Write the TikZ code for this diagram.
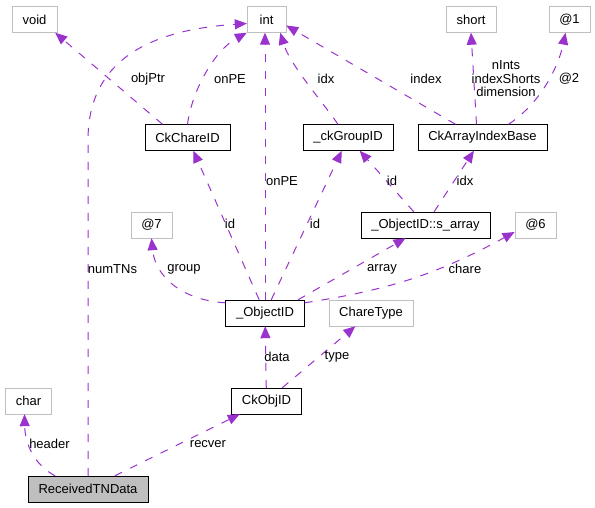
\documentclass[tikz,border=0pt]{standalone}
\usepackage{fontspec}
\setmainfont{Liberation Sans}
\usetikzlibrary{arrows.meta}

\definecolor{edgepurple}{HTML}{9A32CD}
\definecolor{boxgray}{HTML}{BFBFBF}

\begin{document}
\begin{tikzpicture}[x=1pt,y=1pt,
  font=\fontsize{13}{13.5}\selectfont,
  cls/.style={draw,minimum height=26pt,inner xsep=10.5pt,inner ysep=0pt},
  ext/.style={cls,draw=boxgray},
  main/.style={cls,fill=boxgray},
  use/.style={draw=edgepurple,line width=1pt,dash pattern=on 8pt off 9pt,
    -{Triangle[length=12pt,width=10pt]}},
  lbl/.style={inner sep=1pt}]
\useasboundingbox (0,0) rectangle (595,-507);
\node [ext] (void) at (34.5,-19.5) {void};
\node [ext,minimum width=39pt] (int) at (266.5,-19.5) {int};
\node [ext] (short) at (471,-19.5) {short};
\node [ext] (at1) at (569.5,-19.5) {@1};
\node [cls] (ckchare) at (187.5,-137.5) {CkChareID};
\node [cls] (group) at (348,-137.5) {\_ckGroupID};
\node [cls] (arr) at (482.5,-137.5) {CkArrayIndexBase};
\node [ext] (at7) at (151.5,-225) {@7};
\node [cls] (sarr) at (425.5,-225) {\_ObjectID::s\_array};
\node [ext] (at6) at (535.5,-225) {@6};
\node [cls] (obj) at (265,-313) {\_ObjectID};
\node [ext] (ctype) at (371,-313) {ChareType};
\node [ext] (char) at (28.5,-401) {char};
\node [cls] (ckobj) at (266.5,-401) {CkObjID};
\node [main] (recv) at (88,-489) {ReceivedTNData};
\coordinate (numbend) at (88,-140);
% uses
\draw [use] ([xshift=-25pt]ckchare.north) -- ([xshift=-2pt]void.south east);
\draw [use] (ckchare.north) .. controls (192,-90) and (215,-50) .. (int.south west);
\draw [use] (recv.north) -- (numbend) .. controls (88,-60) and (150,-30) .. ([yshift=-4pt]int.west);
\draw [use] (obj.north) -- (obj.north |- int.south);
\draw [use] ([xshift=-10pt]group.north) .. controls (325,-105) and (290,-65) .. ([xshift=-6pt]int.south east);
\draw [use] ([xshift=-27pt]arr.north) -- ([yshift=-6pt]int.east);
\draw [use] ([xshift=-6pt]arr.north) -- (short.south);
\draw [use] ([xshift=26pt]arr.north) .. controls (545,-100) and (560,-60) .. ([xshift=-4pt]at1.south);
\draw [use] (obj) -- (ckchare);
\draw [use] (obj) -- (group);
\draw [use] ([xshift=33pt]obj.north) -- ([xshift=-20pt]sarr.south);
\draw [use] ([yshift=-3pt]obj.north east) to[bend right=10] ([yshift=-7pt]at6.west);
\draw [use] ([yshift=-3pt]obj.north west) .. controls (180,-300) and (155,-275) .. (at7.south);
\draw [use] (sarr) -- (group);
\draw [use] (sarr) -- (arr);
\draw [use] (ckobj) -- (obj);
\draw [use] (ckobj) -- (ctype);
\draw [use] ([xshift=-33pt]recv.north) .. controls (35,-465) and (25,-445) .. ([xshift=-4pt]char.south);
\draw [use] (recv) -- (ckobj);
% labels
\node [lbl] (lobjptr) at (148,-79) {objPtr};
\node [lbl] (lonpe) at (230,-79) {onPE};
\node [lbl] (lnumtns) at (112.5,-269) {numTNs};
\node [lbl] (lonpe2) at (282,-181) {onPE};
\node [lbl] (lidx) at (326,-79) {idx};
\node [lbl] (lindex) at (426,-79) {index};
\node [lbl,align=center] (lshort) at (506,-79) {nInts\\indexShorts\\dimension};
\node [lbl] (lat2) at (569,-79) {@2};
\node [lbl] (lid) at (230,-224) {id};
\node [lbl] (lid2) at (315,-224) {id};
\node [lbl] (lid3) at (392,-181) {id};
\node [lbl] (lidx2) at (465,-181) {idx};
\node [lbl] (lgroup) at (184,-269) {group};
\node [lbl] (larray) at (382,-269) {array};
\node [lbl] (lchare) at (465,-269) {chare};
\node [lbl] (ldata) at (277,-357) {data};
\node [lbl] (ltype) at (337,-357) {type};
\node [lbl] (lheader) at (49.5,-444) {header};
\node [lbl] (lrecver) at (208,-444) {recver};
\end{tikzpicture}
\end{document}
